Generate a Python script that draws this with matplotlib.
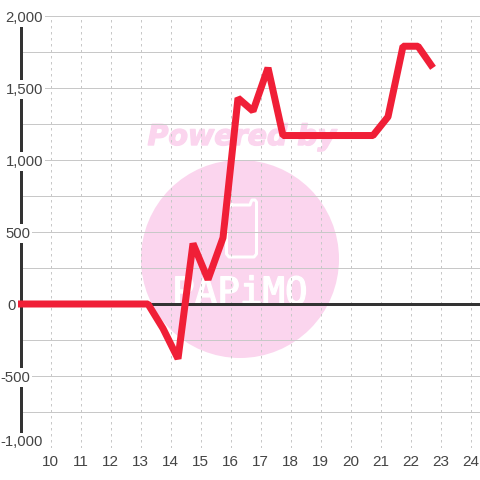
"""Hourly line chart with a pink watermark behind the grid."""

import matplotlib

matplotlib.use("Agg")

import matplotlib.patheffects as pe
import matplotlib.pyplot as plt
from matplotlib.lines import Line2D
from matplotlib.patches import Circle
from matplotlib.transforms import IdentityTransform

hours = [8.88, 9.25, 9.75, 10.25, 10.75, 11.25, 11.75, 12.25, 12.75, 13.25, 13.75, 14.25, 14.75,
         15.25, 15.75, 16.25, 16.75, 17.25, 17.75, 18.25, 18.75, 19.25, 19.75, 20.25, 20.75,
         21.25, 21.75, 22.25, 22.75]
values = [0, 0, 0, 0, 0, 0, 0, 0, 0, 0, -170, -380, 420,
          170, 460, 1430, 1340, 1640, 1170, 1170, 1170, 1170, 1170, 1170, 1170,
          1300, 1790, 1790, 1640]
x_ticks = list(range(10, 25))
y_grid = list(range(-1000, 2001, 250))
y_labels = {2000: "2,000", 1500: "1,500", 1000: "1,000", 500: "500", 0: "0", -500: "-500", -1000: "-1,000"}

W, H = 480, 480
TEXT = "#444444"
GRID = "#c8c8c8"
PINK = "#fbd5ee"
px = 0.72  # points per pixel at dpi 100

plt.rcParams["font.family"] = ["Liberation Sans", "DejaVu Sans"]
fig = plt.figure(figsize=(W / 100, H / 100), dpi=100, facecolor="white")
ax = fig.add_axes([20.5 / W, (H - 448) / H, 459.5 / W, 432 / H])
ax.set_xlim(9, 9 + 459.5 / 30)
ax.set_ylim(-1000, 2000)
ax.patch.set_visible(False)

# watermark sits under the grid
ident = IdentityTransform()
ax.add_patch(Circle((240, H - 259), 99, transform=ident, color=PINK, lw=0, zorder=0.1, clip_on=False))
phone_x = [232, 250, 251, 252, 255, 256.5, 256.5, 254, 229, 226.5, 226.5, 232]
phone_y = [205, 205, 202, 200, 200, 202, 254, 257, 257, 254, 207, 205]
ax.add_line(Line2D(phone_x, [H - v for v in phone_y], transform=ident, color="white", lw=3 * px,
                   solid_joinstyle="round", zorder=0.2, clip_on=False))
ax.text(240, H - 304, "PAPiMO", transform=ident, color="white", family="DejaVu Sans Mono", fontsize=27,
        ha="center", va="baseline", zorder=0.2,
        path_effects=[pe.withStroke(linewidth=1, foreground="white")])
ax.text(242, H - 145, "Powered by", transform=ident, color=PINK, family="DejaVu Sans", weight="bold",
        style="italic", fontsize=20.5, ha="center", va="baseline", zorder=0.2,
        path_effects=[pe.withStroke(linewidth=1, foreground=PINK)])

ax.set_axisbelow(True)
ax.set_xticks(x_ticks)
ax.set_yticks(y_grid)
ax.set_yticklabels([])
ax.tick_params(length=0, labelsize=11, labelcolor=TEXT, pad=5)
ax.grid(True, axis="y", color=GRID, lw=1 * px)
ax.grid(True, axis="x", color=GRID, lw=1 * px, dashes=(2.5, 3.5))

for side in ("top", "right", "bottom"):
    ax.spines[side].set_visible(False)
ax.spines["left"].set_color("#333333")
ax.spines["left"].set_linewidth(3 * px)

ax.axhline(0, color="#333333", lw=3 * px, zorder=2)
ax.plot(hours, values, color="#f01f37", lw=7 * px, solid_joinstyle="bevel", solid_capstyle="butt",
        zorder=3, clip_on=False)

for value, label in y_labels.items():
    right = {1: 16, 3: 30}.get(len(label.replace("-", "").replace(",", "")), 43)
    ax.annotate(label, xy=(right, value), xycoords=("figure pixels", "data"),
                xytext=(0, 7 * px if value == -1000 else 0), textcoords="offset points",
                ha="right", va="center_baseline", fontsize=10.7, color=TEXT,
                bbox=dict(fc="white", ec="none", pad=1.5), annotation_clip=False, zorder=4)

fig.savefig("out.png", dpi=100)
